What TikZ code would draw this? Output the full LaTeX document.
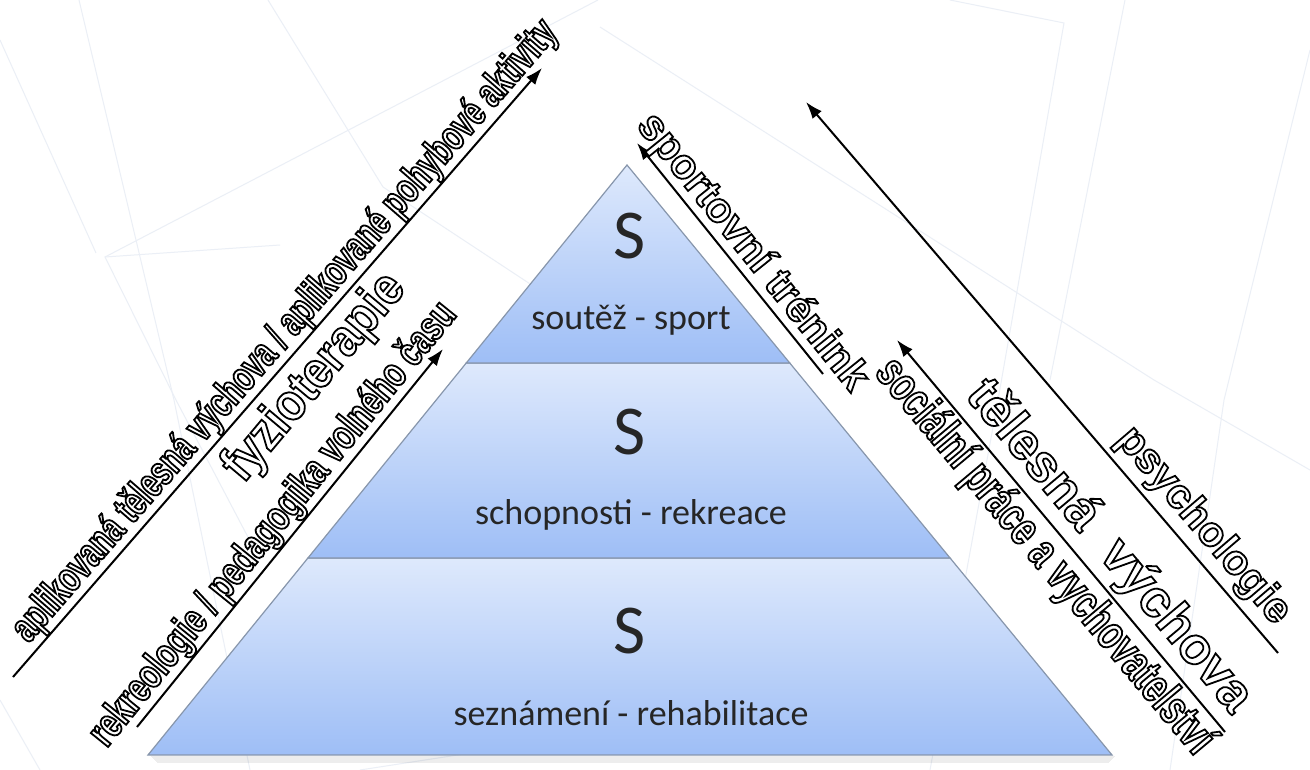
\documentclass[tikz,border=0pt]{standalone}
\usepackage{fontspec}
\setmainfont{Carlito}
\newfontfamily\narrowlbl{Liberation Sans Bold}[FakeStretch=0.69]
\newfontfamily\rekrlbl{Liberation Sans Bold}[FakeStretch=0.72]
\newfontfamily\sociallbl{Liberation Sans Bold}[FakeStretch=0.71]
\newfontfamily\fyzlbl{Liberation Sans Bold}[FakeStretch=0.88]
\newfontfamily\widelbl{Liberation Sans Bold}
\usetikzlibrary{arrows.meta,calc}
\newcommand\outlined[1]{{\color{white}\special{pdf:code 0 G 1.8 w 2 Tr}#1\special{pdf:code 0 Tr}}}
\definecolor{tiertop}{RGB}{222,233,252}
\definecolor{tierbot}{RGB}{158,190,246}
\definecolor{tierline}{RGB}{135,150,172}
\definecolor{bgl}{RGB}{235,239,246}
\definecolor{tiertext}{RGB}{38,38,38}
\tikzset{
  arr/.style={line width=2pt,-{Latex[length=17pt,width=12pt]}},
  lab/.style={inner sep=0pt},
  tier/.style={top color=tiertop,bottom color=tierbot,draw=tierline,line width=1.2pt},
  bigS/.style={font=\fontsize{70}{70}\selectfont,text=tiertext},
  tiertxt/.style={font=\fontsize{36}{40}\selectfont,text=tiertext},
  bgline/.style={draw=bgl,line width=1pt},
}
\begin{document}
\begin{tikzpicture}[x=1pt,y=-1pt]
\useasboundingbox (0,0) rectangle (1310,770);
\fill[white] (0,0) rectangle (1310,770);
% faint background lines
\draw[bgline] (0,40) -- (96,253);
\draw[bgline] (79,0) -- (174,400) -- (250,770);
\draw[bgline] (268,0) -- (383,187) -- (600,330);
\draw[bgline] (598,0) -- (364,122) -- (105,257) -- (176,400) -- (260,560);
\draw[bgline] (105,257) -- (280,245);
\draw[bgline] (950,0) -- (1064,23) -- (998,400) -- (930,770);
\draw[bgline] (1125,0) -- (1050,380);
\draw[bgline] (1310,50) -- (1224,400) -- (1170,770);
\draw[bgline] (600,27) -- (1154,380) -- (1310,470);
\draw[bgline] (0,700) -- (40,770);
\draw[bgline] (360,770) -- (620,730);
% pyramid points
\coordinate (apex) at (627,165);
\coordinate (bl) at (148,755);
\coordinate (br) at (1112,755);
\coordinate (l1) at ($(apex)!0.3356!(bl)$);
\coordinate (r1) at ($(apex)!0.3356!(br)$);
\coordinate (l2) at ($(apex)!0.6661!(bl)$);
\coordinate (r2) at ($(apex)!0.6661!(br)$);
% shadow
\foreach \i in {1,...,7}{
  \draw[black,opacity=0.07,line width=1pt] ($(bl)+(\i+2,\i)$) -- ($(br)+(-\i+4,\i)$);
}
\shade[tier] (l2) -- (r2) -- (br) -- (bl) -- cycle;
\shade[tier] (l1) -- (r1) -- (r2) -- (l2) -- cycle;
\shade[tier] (apex) -- (r1) -- (l1) -- cycle;
\node[bigS] (s1) at (630,236) {S};
\node[tiertxt] (t1) at (631,320) {soutěž - sport};
\node[bigS] (s2) at (630,432) {S};
\node[tiertxt] (t2) at (631,515) {schopnosti - rekreace};
\node[bigS] (s3) at (630,631) {S};
\node[tiertxt] (t3) at (631,713) {seznámení - rehabilitace};
% arrow end points
\coordinate (L1s) at (13,677);
\coordinate (L1e) at (542,68);
\coordinate (L2s) at (137,727);
\coordinate (L2e) at (443,349);
\coordinate (R1s) at (823,374);
\coordinate (R1e) at (637,143);
\coordinate (R2s) at (1225,732);
\coordinate (R2e) at (897,340);
\coordinate (R3s) at (1278,653);
\coordinate (R3e) at (806,102);
% arrows with labels
\draw[arr] (L1s) -- node[lab,pos=0.545,sloped,above=0pt] (aplik)
  {\narrowlbl\fontsize{42}{44}\selectfont\outlined{aplikovaná tělesná výchova / aplikované pohybové aktivity}} (L1e);
\draw[arr] (L2s) -- node[lab,pos=0.50,sloped,above=0pt] (rekr)
  {\rekrlbl\fontsize{42}{44}\selectfont\outlined{rekreologie / pedagogika volného času}} (L2e);
\node[lab,rotate=50] (fyz) at (315,378)
  {\fyzlbl\fontsize{52}{54}\selectfont\outlined{fyzioterapie}};
\draw[arr] (R1s) -- node[lab,pos=0.469,sloped,above=0pt] (sport)
  {\widelbl\fontsize{42}{46}\selectfont\outlined{sportovní trénink}} (R1e);
\draw[arr] (R2s) -- node[lab,pos=0.424,sloped,above=4pt] (telv)
  {\widelbl\fontsize{52}{56}\selectfont\outlined{tělesná\ \ výchova}}
  node[lab,pos=0.49,sloped,below=3pt] (soc)
  {\sociallbl\fontsize{48}{50}\selectfont\outlined{sociální práce a vychovatelství}} (R2e);
\draw[arr] (R3s) -- node[lab,pos=0.2,sloped,above=5pt] (psy)
  {\widelbl\fontsize{42}{46}\selectfont\outlined{psychologie}} (R3e);
\end{tikzpicture}
\end{document}
